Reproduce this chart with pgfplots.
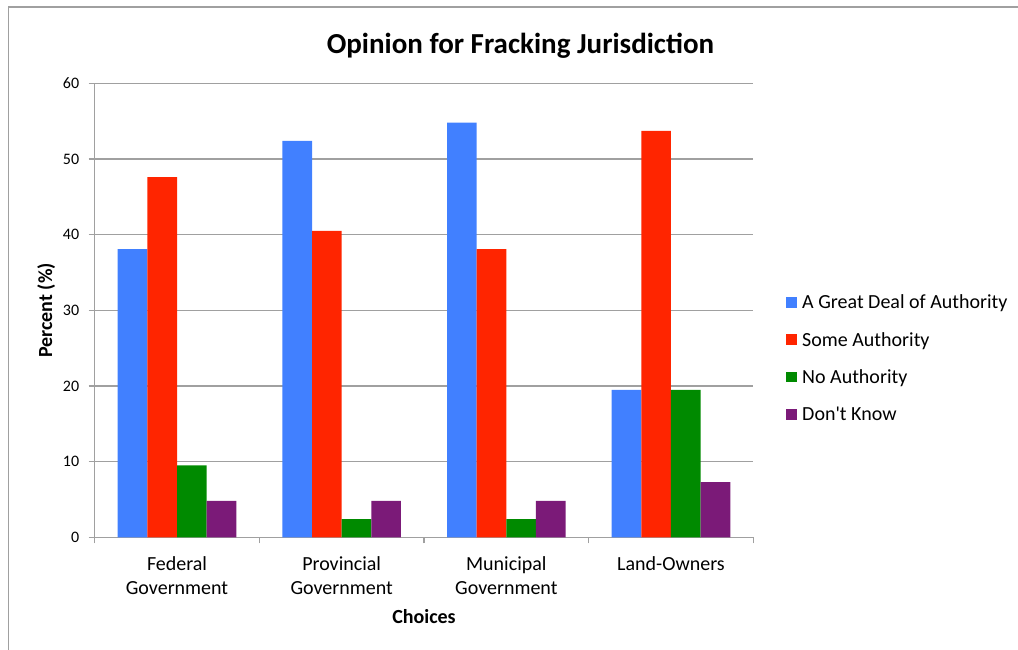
\documentclass[border=0pt]{standalone}
\usepackage{pgfplots}
\pgfplotsset{compat=1.18}
\usepackage{fontspec}
\setmainfont{Carlito}
\newfontfamily\plaincarlito{Carlito}

\definecolor{cBlue}{HTML}{4180FF}
\definecolor{cRed}{HTML}{FF2500}
\definecolor{cGreen}{HTML}{008A00}
\definecolor{cPurple}{HTML}{7B1A78}
\definecolor{cAxis}{HTML}{A0A0A0}

\begin{document}
\begin{tikzpicture}[x=1pt,y=1pt]
  % the axis box has its lower left corner at the origin
  \begin{axis}[
    scale only axis, width=658.6pt, height=454pt,
    xmin=-0.5, xmax=3.5, ymin=0, ymax=60,
    axis x line=bottom, axis y line=left,
    axis line style={cAxis, line width=1.2pt, -},
    ytick={0,10,...,60},
    ymajorgrids,
    major grid style={cAxis, line width=1.2pt},
    xtick={0,1,2,3},
    xticklabels={Federal\\Government, Provincial\\Government, Municipal\\Government, Land-Owners},
    x tick label style={align=center, font=\fontsize{20}{24}\selectfont, yshift=-16pt},
    y tick label style={font=\fontsize{16}{18}\selectfont, xshift=-12pt},
    /pgf/number format/assume math mode=true,
    major tick length=0pt,
    extra x ticks={-0.5,0.5,1.5,2.5,3.5},
    extra x tick labels={},
    extra x tick style={major tick length=6pt, tick style={cAxis, line width=1.2pt}, xtick align=outside},
    extra y ticks={0,10,...,60},
    extra y tick labels={},
    extra y tick style={major tick length=6pt, tick style={cAxis, line width=1.2pt}, ytick align=outside, ymajorgrids=false},
    ybar, bar width=0.18,
    title={\bfseries Opinion for Fracking Jurisdiction},
    title style={font=\fontsize{29}{32}\selectfont, at={(axis description cs:0.6465,1.069)}, anchor=center},
    xlabel={\bfseries Choices},
    xlabel style={font=\fontsize{20}{22}\selectfont, at={(axis description cs:0.5,-0.1755)}, anchor=center},
    ylabel={\bfseries Percent (\%)},
    ylabel style={font=\fontsize{20}{22}\selectfont, at={(axis description cs:-0.0735,0.5)}, anchor=center},
    legend style={draw=none, fill=none, inner sep=0pt,
      at={(axis description cs:1.0497,0.394)}, anchor=west,
      font=\fontsize{20}{22}\selectfont, row sep=18pt,
      legend cell align=left,
      /tikz/every odd column/.append style={column sep=3.5pt}},
    legend image code/.code={\fill[#1] (0pt,-5pt) rectangle (10.5pt,5.5pt);},
  ]
    \addplot[fill=cBlue, draw=none, bar shift=-0.27] coordinates {(0,38.1) (1,52.4) (2,54.8) (3,19.5)};
    \addplot[fill=cRed, draw=none, bar shift=-0.09] coordinates {(0,47.6) (1,40.5) (2,38.1) (3,53.7)};
    \addplot[fill=cGreen, draw=none, bar shift=0.09] coordinates {(0,9.5) (1,2.4) (2,2.4) (3,19.5)};
    \addplot[fill=cPurple, draw=none, bar shift=0.27] coordinates {(0,4.8) (1,4.8) (2,4.8) (3,7.3)};
    \legend{A Great Deal of Authority, Some Authority, No Authority, {\plaincarlito Don't Know}}
  \end{axis}
  % outer frame of the chart area, running off the right and bottom edges
  \draw[cAxis, line width=1.2pt] (-86.2,-140) rectangle (950,530.3);
  \pgfresetboundingbox
  \useasboundingbox (-94.7,-111.7) rectangle (923.3,537.3);
\end{tikzpicture}
\end{document}
